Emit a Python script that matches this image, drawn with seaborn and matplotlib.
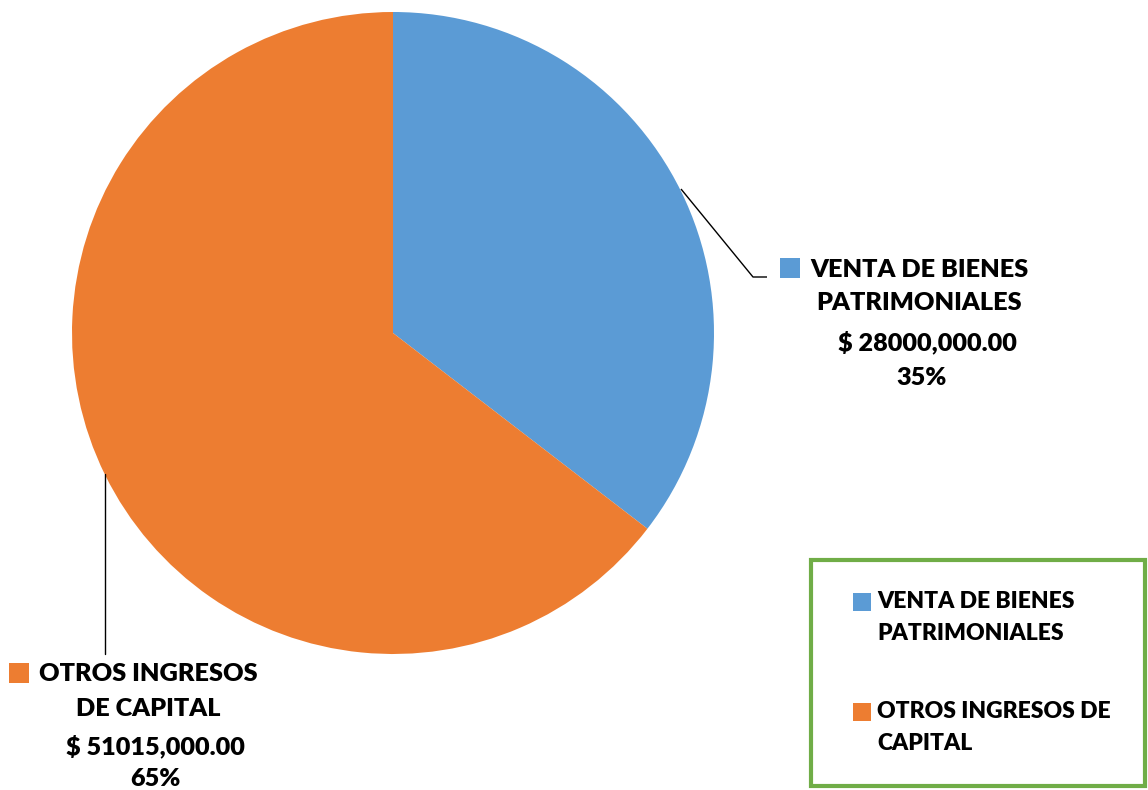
import matplotlib
matplotlib.use("Agg")
import matplotlib.pyplot as plt
import seaborn as sns
from matplotlib.patches import Rectangle

# Data
categories = ["VENTA DE BIENES\nPATRIMONIALES", "OTROS INGRESOS\nDE CAPITAL"]
legend_labels = ["VENTA DE BIENES\nPATRIMONIALES", "OTROS INGRESOS DE\nCAPITAL"]
amounts = [28000000, 51015000]
amount_labels = ["$ 28000,000.00", "$ 51015,000.00"]

W, H = 1148, 790

sns.set_theme(style="white")
plt.rcParams["font.family"] = ["Lato", "DejaVu Sans"]
colors = sns.color_palette(["#5B9BD5", "#ED7D31"])


def py(y):
    # pixel row (top origin) -> data y (bottom origin)
    return H - y


fig = plt.figure(figsize=(W / 100, H / 100), dpi=100)
ax = fig.add_axes([0, 0, 1, 1])

# Pie
center = (393, py(333))
radius = 321
wedges, _ = ax.pie(amounts, colors=colors, startangle=90, counterclock=False,
                   center=center, radius=radius, frame=True,
                   wedgeprops=dict(linewidth=0))
ax.set_xlim(0, W)
ax.set_ylim(0, H)
ax.axis("off")

total = sum(amounts)
pcts = [f"{round(a / total * 100)}%" for a in amounts]

label_fs = 18.2
lab_kw = dict(fontsize=label_fs, fontweight="heavy", color="black", ha="center", va="center")

# Label for blue slice with leader line
ax.plot([681, 753, 767], [py(189), py(277), py(277)], color="black", lw=1, solid_capstyle="butt")
ax.scatter([790], [py(268)], marker="s", s=200, color=colors[0], linewidths=0)
name_lines = categories[0].split("\n")
ax.text(919, py(270), name_lines[0], **lab_kw)
ax.text(919, py(303), name_lines[1], **lab_kw)
ax.text(927, py(342), amount_labels[0], **lab_kw)
ax.text(922, py(378), pcts[0], **lab_kw)

# Label for orange slice with leader line
ax.plot([105, 105], [py(474), py(654)], color="black", lw=1)
ax.scatter([19], [py(673)], marker="s", s=200, color=colors[1], linewidths=0)
name_lines = categories[1].split("\n")
ax.text(148, py(674), name_lines[0], **lab_kw)
ax.text(148, py(709), name_lines[1], **lab_kw)
ax.text(155, py(746), amount_labels[1], **lab_kw)
ax.text(155, py(779), pcts[1], **lab_kw)

# Legend box drawn by hand to match the reference layout
ax.add_patch(Rectangle((811, py(786)), 334, 226, fill=False,
                       edgecolor="#70AD47", lw=3))
leg_fs = 16.5
for i, (lab, yy) in enumerate(zip(legend_labels, [602, 712])):
    ax.scatter([862], [py(yy)], marker="s", s=150, color=colors[i], linewidths=0)
    for j, line in enumerate(lab.split("\n")):
        ax.text(877, py(yy + j * 31), line, fontsize=leg_fs, fontweight="heavy",
                color="black", ha="left", va="center")

fig.savefig("out.png", dpi=100)
